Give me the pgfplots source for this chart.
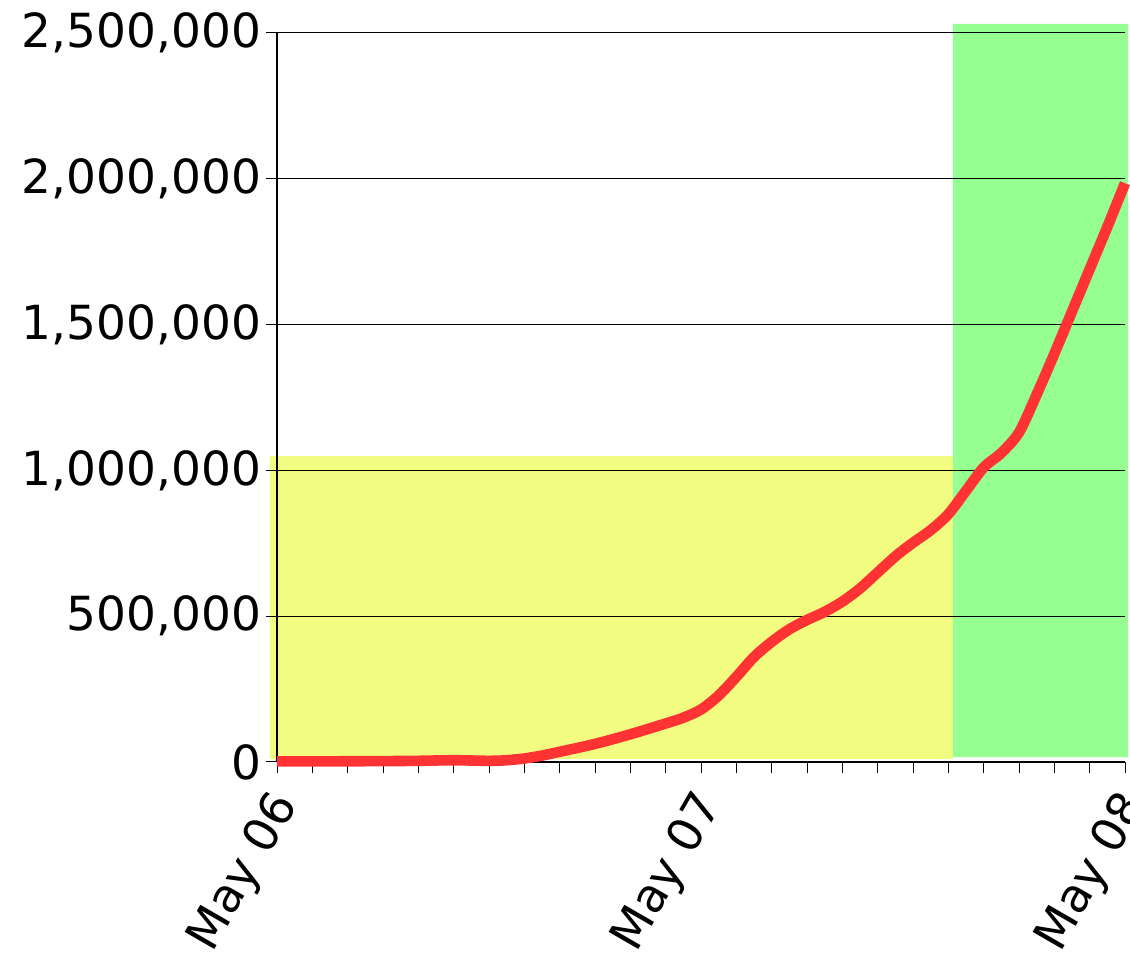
\documentclass[border=0pt]{standalone}
\usepackage{pgfplots}
\pgfplotsset{compat=1.18}
\usepackage{fontspec}
\setmainfont{DejaVu Sans}
\definecolor{cyellow}{HTML}{F2FC80}
\definecolor{cgreen}{HTML}{96FF92}
\definecolor{cred}{HTML}{FF3333}
\begin{document}
\fontsize{23.5}{28}\selectfont
\begin{tikzpicture}
\begin{axis}[
  set layers=standard,
  scale only axis,
  width=424pt, height=364.5pt,
  xmin=0, xmax=48, ymin=0, ymax=2500000,
  clip=false,
  axis x line=bottom, axis y line=left,
  axis line style={-, line width=0.6pt, black},
  xtick={0,24,48},
  xticklabels={May 06,May 07,May 08},
  minor x tick num=11,
  ytick={0,500000,1000000,1500000,2000000,2500000},
  scaled y ticks=false,
  yticklabel style={inner sep=2.3pt, /pgf/number format/.cd, fixed, 1000 sep={,}, assume math mode=true},
  xticklabel style={rotate=60, anchor=north east, inner sep=2pt, xshift=-6pt, yshift=2.6pt},
  tick align=outside,
  major tick length=5.5pt, minor tick length=5.5pt,
  tick style={black, line width=0.5pt},
  ymajorgrids,
  major grid style={black, line width=0.5pt},
  tick label style={font=\fontsize{23.5}{28}\selectfont},
]
\addplot[fill=cyellow, draw=none, on layer=axis background] coordinates {(-0.4,10000) (38.25,10000) (38.25,1049000) (-0.4,1049000) (-0.4,10000)};
\addplot[fill=cgreen, draw=none, on layer=axis background] coordinates {(38.25,17000) (48.17,17000) (48.17,2531000) (38.25,2531000) (38.25,17000)};
\addplot[cred, line width=5.3pt, smooth] table {
0 2000
2 2000
4 2500
6 3000
8 4000
10 6000
12 4000
13 6000
14 12000
15 22000
16 35000
18 62000
20 95000
22 132000
23 152000
24 180000
25 228000
26 292000
27 360000
28 412000
29 455000
30 487000
31 515000
32 550000
33 595000
34 650000
35 705000
36 752000
37 795000
38 850000
39 930000
40 1010000
41 1060000
42 1130000
43 1260000
44 1400000
45 1545000
46 1690000
47 1835000
48 1985000
};
\end{axis}
\pgfresetboundingbox
\path (current axis.south west) ++(-138.5pt,-97pt) coordinate (bl);
\path (current axis.north east) ++(2.5pt,16.5pt) coordinate (tr);
\useasboundingbox (bl) rectangle (tr);
\end{tikzpicture}
\end{document}
